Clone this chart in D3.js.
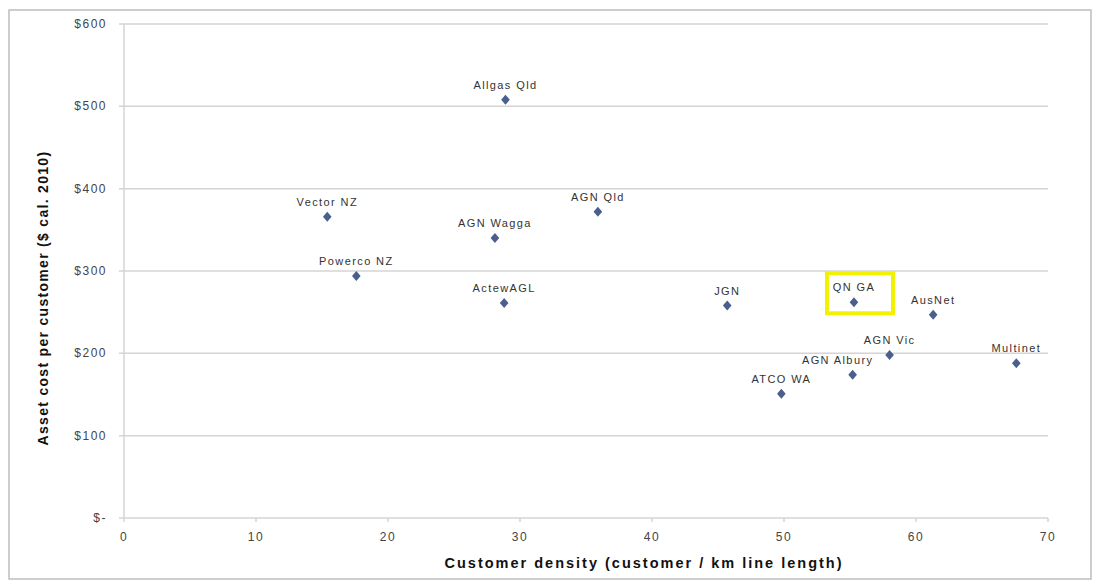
<!DOCTYPE html>
<html>
<head>
<meta charset="utf-8">
<script src="https://cdn.jsdelivr.net/npm/d3@7"></script>
<style>
  body { margin: 0; background: #fff; }
  svg { display: block; font-family: "Liberation Sans", Arial, sans-serif; }
</style>
</head>
<body>
<svg id="chart" width="1094" height="583"></svg>
<script>
// distributor names
var names = ["Vector NZ", "Powerco NZ", "Allgas Qld", "AGN Qld", "AGN Wagga", "ActewAGL",
             "JGN", "ATCO WA", "AGN Albury", "AGN Vic", "QN GA", "AusNet", "Multinet"];
// customer density (customer / km)
var density = [15.4, 17.6, 28.9, 35.9, 28.1, 28.8, 45.7, 49.8, 55.2, 58.0, 55.3, 61.3, 67.6];
// asset cost per customer ($)
var cost = [366, 294, 508, 372, 340, 261, 258, 151, 174, 198, 262, 247, 188];

var xTicks = [0, 10, 20, 30, 40, 50, 60, 70];
var yTicks = [0, 100, 200, 300, 400, 500, 600];
var yTickLabels = ["$-", "$100", "$200", "$300", "$400", "$500", "$600"];

// label nudges for crowded points
var labelNudge = { "AGN Albury": -15 };
var highlighted = "QN GA";

var svg = d3.select("#chart");

// outer frame
svg.append("rect")
    .attr("x", 9).attr("y", 10)
    .attr("width", 1082).attr("height", 569)
    .attr("fill", "none").attr("stroke", "#bdbdbd").attr("stroke-width", 1.5);

var x = d3.scaleLinear().domain([0, 70]).range([124, 1048]);
var y = d3.scaleLinear().domain([0, 600]).range([518, 24]);

// gridlines
svg.append("g")
    .selectAll("line")
    .data(yTicks)
    .join("line")
    .attr("x1", x(0) - 5).attr("x2", x(70))
    .attr("y1", d => y(d)).attr("y2", d => y(d))
    .attr("stroke", "#d4d4d4").attr("stroke-width", 1.5);

// y axis line
svg.append("line")
    .attr("x1", x(0)).attr("x2", x(0))
    .attr("y1", y(600)).attr("y2", y(0))
    .attr("stroke", "#d4d4d4").attr("stroke-width", 1.5);

// x tick marks
svg.append("g")
    .selectAll("line")
    .data(xTicks)
    .join("line")
    .attr("x1", d => x(d)).attr("x2", d => x(d))
    .attr("y1", y(0)).attr("y2", y(0) + 4)
    .attr("stroke", "#d4d4d4").attr("stroke-width", 1.5);

// y tick labels
svg.append("g")
    .selectAll("text")
    .data(yTicks)
    .join("text")
    .attr("x", 107)
    .attr("y", d => y(d) + 4)
    .attr("text-anchor", "end")
    .attr("font-size", 12)
    .attr("letter-spacing", 1.5)
    .attr("fill", "#444")
    .text((d, i) => yTickLabels[i]);

// x tick labels
svg.append("g")
    .selectAll("text")
    .data(xTicks)
    .join("text")
    .attr("x", d => x(d))
    .attr("y", 541)
    .attr("text-anchor", "middle")
    .attr("font-size", 12)
    .attr("letter-spacing", 1.5)
    .attr("fill", "#444")
    .text(d => d);

// axis titles
svg.append("text")
    .attr("x", 644).attr("y", 568)
    .attr("text-anchor", "middle")
    .attr("font-size", 14.5).attr("font-weight", "bold")
    .attr("letter-spacing", 2)
    .attr("fill", "#111")
    .text("Customer density (customer / km line length)");

svg.append("text")
    .attr("transform", "translate(48,298) rotate(-90)")
    .attr("text-anchor", "middle")
    .attr("font-size", 14).attr("font-weight", "bold")
    .attr("letter-spacing", 1.3)
    .attr("fill", "#111")
    .text("Asset cost per customer ($ cal. 2010)");

var points = names.map((n, i) => ({ name: n, x: density[i], y: cost[i] }));

// highlight box
var hl = points.find(d => d.name === highlighted);
svg.append("rect")
    .attr("x", x(hl.x) - 27).attr("y", y(hl.y) - 29)
    .attr("width", 66).attr("height", 40)
    .attr("fill", "none").attr("stroke", "#f2f200").attr("stroke-width", 4);

// markers
svg.append("g")
    .selectAll("path")
    .data(points)
    .join("path")
    .attr("transform", d => "translate(" + x(d.x) + "," + y(d.y) + ") scale(1.2,0.8)")
    .attr("d", d3.symbol().type(d3.symbolDiamond).size(45))
    .attr("fill", "#4a5f8c");

// point labels
svg.append("g")
    .selectAll("text")
    .data(points)
    .join("text")
    .attr("x", d => x(d.x) + (labelNudge[d.name] || 0))
    .attr("y", d => y(d.y) - 11)
    .attr("text-anchor", "middle")
    .attr("font-size", 11)
    .attr("letter-spacing", 1.4)
    .attr("fill", "#333")
    .text(d => d.name);
</script>
</body>
</html>
